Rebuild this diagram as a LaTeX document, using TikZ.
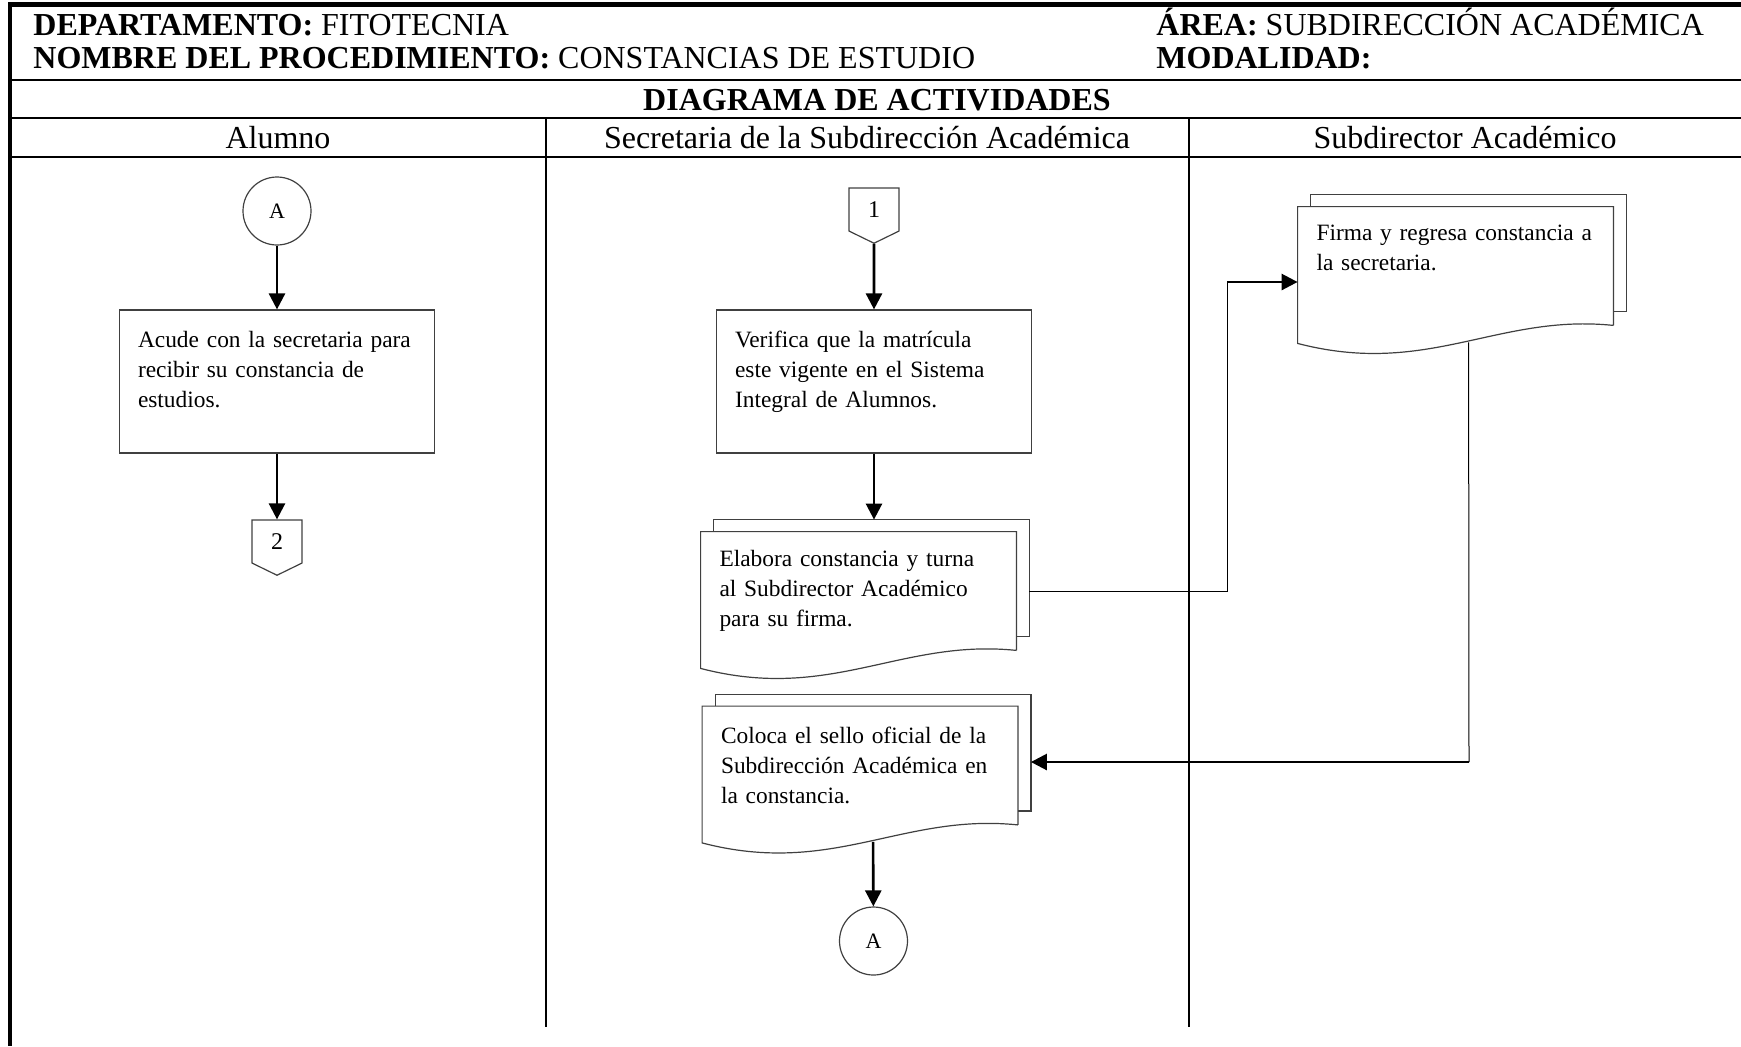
\documentclass[tikz,border=0pt]{standalone}
\usepackage{fontspec}
\setmainfont{Liberation Serif}
\usetikzlibrary{arrows.meta,shapes.symbols}
\newcommand{\bajo}[1]{\rule[-#1]{0pt}{#1}}

\begin{document}
\begin{tikzpicture}[x=0.5pt,y=-0.5pt,
    titulo/.style={inner sep=0pt,font=\fontsize{16}{19}\selectfont},
    proceso/.style={draw=black!75,line width=0.6pt,minimum width=157.5pt,minimum height=71.5pt,
      text width=139pt,inner xsep=0pt,align=left,font=\fontsize{11.7}{15}\selectfont},
    documento/.style={minimum width=157.5pt,minimum height=59pt,
      text width=139pt,inner xsep=0pt,align=left,font=\fontsize{11.7}{15}\selectfont},
    hoja/.style={draw=black!75,line width=0.6pt},
    conector/.style={draw=black!75,line width=0.6pt,circle,minimum size=34pt,inner sep=0pt,
      font=\fontsize{11}{13}\selectfont},
    fuerapag/.style={draw=black!75,line width=0.6pt,signal,signal to=south,signal pointer angle=128,
      minimum width=25pt,minimum height=23pt,inner sep=0pt,font=\fontsize{12}{14}\selectfont},
    flecha/.style={line width=1.3pt,-{Triangle[length=8pt,width=8pt]}},
    linea/.style={line width=0.5pt}]
    \useasboundingbox (0,0) rectangle (1741,1046);
    % marco
    \draw[line width=2.5pt] (8,4.5) -- (1741,4.5);
    \draw[line width=2pt] (10,3) -- (10,1046);
    \draw[line width=1.3pt] (10,80) -- (1741,80);
    \draw[line width=1.3pt] (10,118) -- (1741,118);
    \draw[line width=1.3pt] (10,157) -- (1741,157);
    \draw[line width=1pt] (546,118) -- (546,1027);
    \draw[line width=1pt] (1189,118) -- (1189,1027);
    % encabezado
    \node[titulo,anchor=base west] at (33,35) (depto) {\textbf{DEPARTAMENTO:} FITOTECNIA};
    \node[titulo,anchor=base west] at (33,68) (nombre) {\textbf{NOMBRE DEL PROCEDIMIENTO:} CONSTANCIAS DE ESTUDIO};
    \node[titulo,anchor=base west] at (1156,35) (area) {\textbf{ÁREA:} SUBDIRECCIÓN ACADÉMICA};
    \node[titulo,anchor=base west] at (1156,68) (modalidad) {\textbf{MODALIDAD:}};
    \node[titulo,anchor=base] at (877,110) (diagrama) {\textbf{DIAGRAMA DE ACTIVIDADES}};
    \node[titulo,anchor=base] at (278,148) (alumno) {Alumno};
    \node[titulo,anchor=base] at (867,148) (secretaria) {Secretaria de la Subdirección Académica};
    \node[titulo,anchor=base] at (1465,148) (subdirector) {Subdirector Académico};
    % actividades
    \node[conector] at (277,211) (A1) {A};
    \node[proceso] at (277,381.5) (acude) {Acude con la secretaria para\\recibir su constancia de\\estudios.\bajo{12pt}};
    \node[fuerapag] at (277,541.5) (c2) {2};
    \node[fuerapag] at (874,209.5) (c1) {1};
    \node[proceso] at (874,381.5) (verifica) {Verifica que la matrícula\\este vigente en el Sistema\\Integral de Alumnos.\bajo{12pt}};
    \node[documento] at (858.5,591) (elabora) {Elabora constancia y turna\\al Subdirector Académico\\para su firma.};
    \node[documento] at (1455.5,266) (firma) {Firma y regresa constancia a\\la secretaria.\bajo{18.5pt}};
    \node[documento] at (860,765.5) (coloca) {Coloca el sello oficial de la\\Subdirección Académica en\\la constancia.};
    \node[conector] at (873.5,941) (A2) {A};
    % hojas de los documentos
    \draw[hoja] ([xshift=6.5pt]elabora.north west) -- ++(0,6pt) -| ([xshift=6.5pt,yshift=7pt]elabora.south east) -- ([yshift=7pt]elabora.south east);
    \draw[hoja] (elabora.south east) -- (elabora.north east) -- (elabora.north west) -- ([yshift=-9pt]elabora.south west)
      .. controls ([xshift=65pt,yshift=-26pt]elabora.south west) and ([xshift=100pt,yshift=6pt]elabora.south west) .. (elabora.south east);
    \draw[hoja] ([xshift=6.5pt]firma.north west) -- ++(0,6pt) -| ([xshift=6.5pt,yshift=7pt]firma.south east) -- ([yshift=7pt]firma.south east);
    \draw[hoja] (firma.south east) -- (firma.north east) -- (firma.north west) -- ([yshift=-9pt]firma.south west)
      .. controls ([xshift=65pt,yshift=-26pt]firma.south west) and ([xshift=100pt,yshift=6pt]firma.south west) .. (firma.south east);
    \draw[hoja] ([xshift=6.5pt]coloca.north west) -- ++(0,6pt) -| ([xshift=6.5pt,yshift=7pt]coloca.south east) -- ([yshift=7pt]coloca.south east);
    \draw[hoja] (coloca.south east) -- (coloca.north east) -- (coloca.north west) -- ([yshift=-9pt]coloca.south west)
      .. controls ([xshift=65pt,yshift=-26pt]coloca.south west) and ([xshift=100pt,yshift=6pt]coloca.south west) .. (coloca.south east);
    \coordinate (elaboraTop) at ([yshift=6pt]elabora.north);
    \coordinate (elaboraDer) at ([xshift=6.5pt]elabora.east);
    \coordinate (colocaDer) at ([xshift=6.5pt]coloca.east);
    \coordinate (firmaOla) at ([xshift=85.5pt,yshift=-8.5pt]firma.south west);
    \coordinate (colocaOla) at ([xshift=85.5pt,yshift=-8.5pt]coloca.south west);
    \coordinate (codo1) at (1227,282);
    \coordinate (codo2) at (1469,762);
    % flujo
    \draw[flecha] (A1) -- (acude);
    \draw[flecha] (acude) -- (c2);
    \draw[flecha] (c1) -- (verifica);
    \draw[flecha] (verifica) -- (verifica |- elaboraTop);
    \draw[linea] (elaboraDer) -| (codo1);
    \draw[flecha] (codo1) -- (codo1 -| firma.west);
    \draw[linea] (firmaOla) -- (codo2);
    \draw[flecha] (codo2) -- (colocaDer |- codo2);
    \draw[flecha] (colocaOla) -- (A2);
  \end{tikzpicture}
\end{document}
